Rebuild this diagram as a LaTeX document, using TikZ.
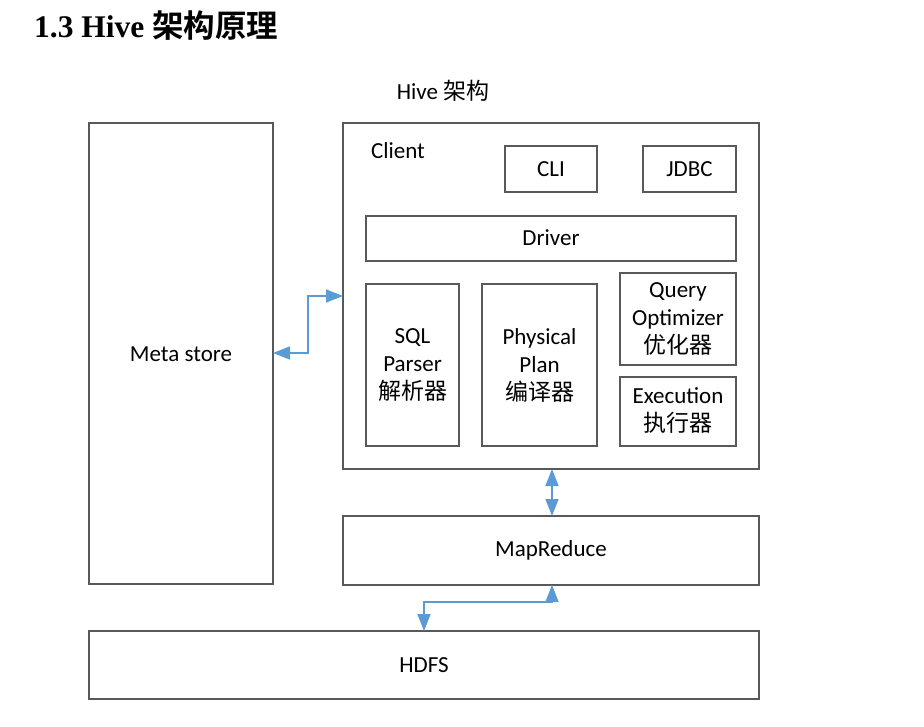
\documentclass[tikz,border=0pt]{standalone}
\usepackage{fontspec}
\setmainfont{Carlito}
\newfontfamily\cjk{Noto Sans CJK SC}
\newfontfamily\headfont{Liberation Serif}[BoldFont={Liberation Serif Bold}]
\newfontfamily\headcjk{Noto Sans CJK SC}[BoldFont={Noto Sans CJK SC Bold}]
\usetikzlibrary{arrows.meta}
\definecolor{boxline}{RGB}{89,89,89}
\definecolor{arrowblue}{RGB}{91,155,213}
\begin{document}
\begin{tikzpicture}[x=1pt,y=-1pt,
  box/.style={draw=boxline,line width=1.4pt,fill=white},
  lbl/.style={font=\fontsize{23}{28}\selectfont,align=center,inner sep=0pt},
  link/.style={draw=arrowblue,line width=1.6pt,{Triangle[width=13pt,length=17pt]}-{Triangle[width=13pt,length=17pt]}}]
\useasboundingbox (0,0) rectangle (924,727);
% heading
\node[anchor=west,inner sep=0pt,font=\fontsize{31.5}{36}\selectfont] (heading) at (34,26) {\headfont\bfseries 1.3 Hive \headcjk\bfseries 架构原理};
\node[lbl] (title) at (443,91) {Hive {\cjk 架构}};
% boxes
\draw[box] (89,123) rectangle (273,584);
\node[lbl] (meta) at (181,354) {Meta store};
\draw[box] (343,123) rectangle (759,469);
\coordinate (clientL) at (343,296);
\coordinate (clientB) at (552,469);
\node[lbl] (client) at (398,151) {Client};
\draw[box] (505,146) rectangle (597,192);
\node[lbl] (cli) at (551,169) {CLI};
\draw[box] (643,146) rectangle (736,192);
\node[lbl] (jdbc) at (689.5,169) {JDBC};
\draw[box] (366,216) rectangle (736,261);
\node[lbl] (driver) at (551,238) {Driver};
\draw[box] (366,284) rectangle (459,446);
\node[lbl] (sql) at (412.5,365) {SQL\\Parser\\{\cjk 解析器}};
\draw[box] (482,284) rectangle (597,446);
\node[lbl] (phys) at (539.5,365) {Physical\\Plan\\{\cjk 编译器}};
\draw[box] (620,273) rectangle (736,365);
\node[lbl] (query) at (678,319) {Query\\Optimizer\\{\cjk 优化器}};
\draw[box] (620,377) rectangle (736,446);
\node[lbl] (exec) at (678,411) {Execution\\{\cjk 执行器}};
\draw[box] (343,516) rectangle (759,585);
\node[lbl] (mr) at (551,550) {MapReduce};
\coordinate (mrT) at (552,516);
\coordinate (mrB) at (552,585);
\draw[box] (89,631) rectangle (759,699);
\node[lbl] (hdfs) at (424,665) {HDFS};
\coordinate (hdfsT) at (424,631);
\coordinate (metaR) at (273,353);
% connectors
\draw[link] (metaR) -- (308,353) -- (308,296) -- (clientL);
\draw[link] (clientB) -- (mrT);
\draw[link] (mrB) -- (552,602) -- (424,602) -- (hdfsT);
\end{tikzpicture}
\end{document}
